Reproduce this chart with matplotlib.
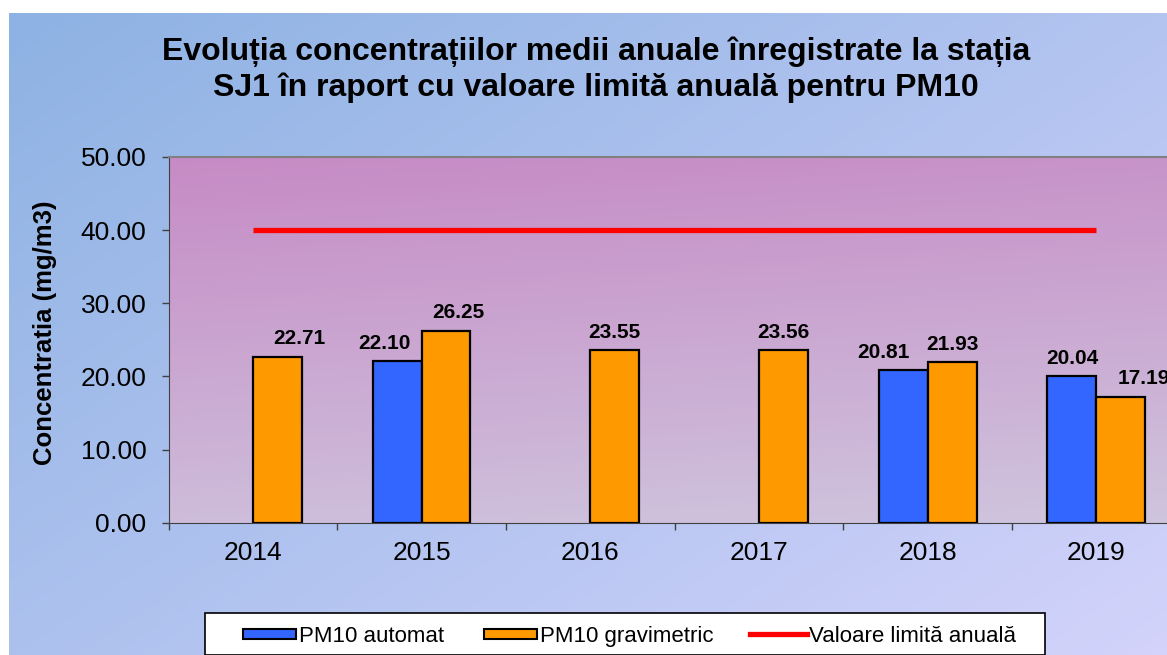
import numpy as np
import matplotlib
matplotlib.use("Agg")
import matplotlib.pyplot as plt
from matplotlib.colors import LinearSegmentedColormap
from matplotlib.patches import Rectangle
from matplotlib.lines import Line2D

years = ["2014", "2015", "2016", "2017", "2018", "2019"]
automat = [np.nan, 22.10, np.nan, np.nan, 20.81, 20.04]
gravimetric = [22.71, 26.25, 23.55, 23.56, 21.93, 17.19]
limit = [40, 40, 40, 40, 40, 40]
legend_labels = ["PM10 automat", "PM10 gravimetric", "Valoare limită anuală"]

# label shifts (pixels) as placed in the original
shift_auto = [0, -13, 0, 0, -20, 0]
shift_grav = [22, 12, 0, 0, 0, 23]

plt.rcParams['font.family'] = ['Liberation Sans', 'DejaVu Sans']

W, H = 1167, 655
fig = plt.figure(figsize=(W / 100, H / 100), dpi=100)
fig.patch.set_facecolor("white")

# figure background gradient (diagonal)
bg = fig.add_axes([9 / W, 0, 1 - 9 / W, 1 - 13 / H])
gx, gy = np.meshgrid(np.linspace(0, 1, 300), np.linspace(0, 1, 200))
bg_cmap = LinearSegmentedColormap.from_list("bg", ["#8db2e3", "#d3d3fb"])
bg.imshow((gx * 0.55 + gy * 0.45), cmap=bg_cmap, aspect="auto",
          extent=[0, 1, 1, 0], vmin=0, vmax=1)
bg.set_axis_off()

left, right = 168.5, 168.5 + 6 * 168.7
top, bottom = 157, 522.7
ax = fig.add_axes([left / W, 1 - bottom / H, (right - left) / W, (bottom - top) / H])

# plot area gradient
pa_cmap = LinearSegmentedColormap.from_list("pa", ["#c68bc5", "#cfc5de"])
py, px = np.meshgrid(np.linspace(0, 1, 200), np.linspace(0, 1, 300), indexing="ij")
ax.imshow(py * 0.85 + px * 0.15, cmap=pa_cmap, aspect="auto", extent=[0, 6, 0, 50],
          vmin=0, vmax=1, zorder=0)
ax.set_xlim(0, 6)
ax.set_ylim(0, 50)

x = np.arange(len(years)) + 0.5
w = 0.29
ax.bar(x - w / 2, automat, w, color="#3366ff", edgecolor="black", linewidth=1.6, zorder=2)
ax.bar(x + w / 2, gravimetric, w, color="#ff9900", edgecolor="black", linewidth=1.6, zorder=2)
ax.plot(x, limit, color="#ff0000", linewidth=3.8, solid_capstyle="butt", zorder=3)

for i in range(len(years)):
    if not np.isnan(automat[i]):
        ax.annotate("%.2f" % automat[i], (x[i] - w / 2, automat[i]),
                    xytext=(shift_auto[i] * 0.72, 13), textcoords="offset points",
                    ha="center", va="center", fontsize=15, fontweight="bold", zorder=4)
    ax.annotate("%.2f" % gravimetric[i], (x[i] + w / 2, gravimetric[i]),
                xytext=(shift_grav[i] * 0.72, 13), textcoords="offset points",
                ha="center", va="center", fontsize=15, fontweight="bold", zorder=4,
                annotation_clip=False)

ax.set_yticks(np.arange(0, 51, 10))
ax.set_yticklabels(["%.2f" % v for v in np.arange(0, 51, 10)])
ax.set_xticks(np.arange(0, 7))
ax.set_xticklabels([])
ax.set_xticks(x, minor=True)
ax.set_xticklabels(years, minor=True)
ax.tick_params(axis="y", direction="out", length=5, width=1, color="#404040",
               labelsize=19, pad=11)
ax.tick_params(axis="x", which="major", direction="out", length=5, width=1, color="#404040")
ax.tick_params(axis="x", which="minor", length=0, labelsize=19, pad=13)

ax.spines["right"].set_visible(False)
ax.spines["top"].set_color("#808080")
ax.spines["top"].set_linewidth(1.5)
ax.spines["left"].set_color("#404040")
ax.spines["bottom"].set_color("#404040")

fig.text(596 / W, 1 - 70 / H,
         "Evoluția concentrațiilor medii anuale înregistrate la stația\n"
         "SJ1 în raport cu valoare limită anuală pentru PM10",
         ha="center", va="center", fontsize=23, fontweight="bold", linespacing=1.25)

fig.text(45 / W, 1 - 333 / H, "Concentratia (mg/m3)", rotation=90,
         ha="center", va="center", fontsize=18.5, fontweight="bold")

# legend, laid out by hand like the spreadsheet legend
def fx(p):
    return p / W

def fy(p):
    return 1 - p / H

fig.patches.append(Rectangle((fx(205), 0), fx(1045 - 205), fy(613),
                             transform=fig.transFigure, facecolor="white",
                             edgecolor="black", linewidth=1.2, zorder=5))
for x0, col in [(243, "#3366ff"), (484, "#ff9900")]:
    fig.patches.append(Rectangle((fx(x0), fy(639)), fx(53), 10 / H,
                                 transform=fig.transFigure, facecolor=col,
                                 edgecolor="black", linewidth=1.5, zorder=6))
fig.lines.append(Line2D([fx(750), fx(807)], [fy(634), fy(634)], transform=fig.transFigure,
                        color="#ff0000", linewidth=3.8, zorder=6))
for x0, lab in zip([299, 540, 809], legend_labels):
    fig.text(fx(x0), fy(642), lab, ha="left", va="baseline", fontsize=16, zorder=7)

fig.savefig("out.png", dpi=100)
